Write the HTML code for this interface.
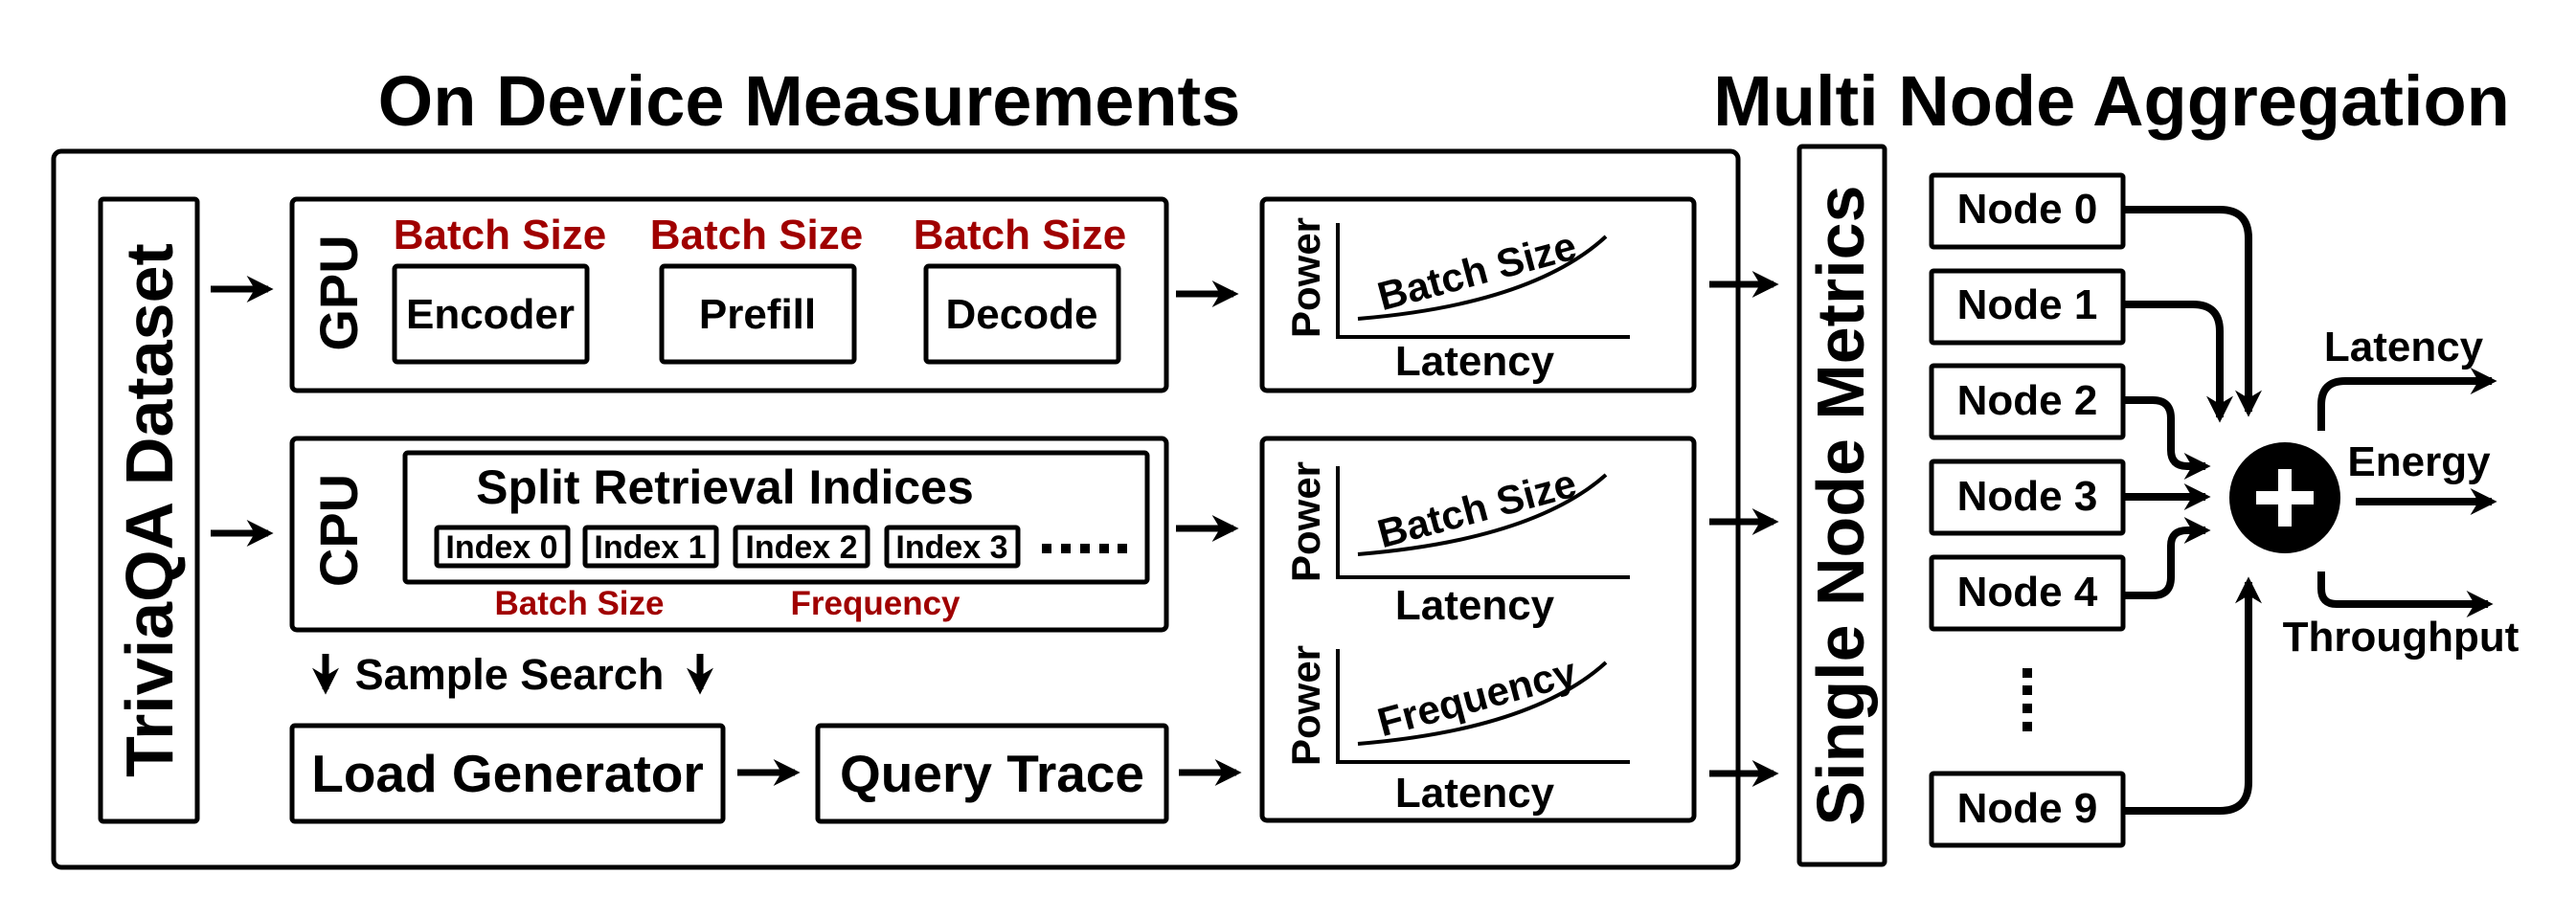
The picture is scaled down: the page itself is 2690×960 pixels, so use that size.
<!DOCTYPE html>
<html><head><meta charset="utf-8"><style>
html,body{margin:0;padding:0;background:#fff;}
svg{display:block;}
text{font-family:"Liberation Sans",Arial,sans-serif;font-weight:bold;}
</style></head><body>
<svg width="2690" height="960" viewBox="0 0 2690 960" xmlns="http://www.w3.org/2000/svg">
<defs>
<marker id="ah" markerWidth="30" markerHeight="28" refX="8" refY="5" orient="auto" markerUnits="userSpaceOnUse" viewBox="0 0 10 10"><path d="M0,0 L10,5 L0,10 L3,5 Z" fill="#000"/></marker>
</defs>
<text x="845" y="131" font-size="74" text-anchor="middle">On Device Measurements</text>
<text x="2205" y="131" font-size="74" text-anchor="middle">Multi Node Aggregation</text>

<g fill="none" stroke="#000" stroke-width="5">
<rect x="56" y="158" width="1759" height="748" rx="8"/>
<rect x="105" y="208" width="101" height="650" rx="3"/>
<rect x="305" y="208" width="913" height="200" rx="5"/>
<rect x="412" y="278" width="201" height="100" rx="3"/>
<rect x="691" y="278" width="201" height="100" rx="3"/>
<rect x="967" y="278" width="201" height="100" rx="3"/>
<rect x="305" y="458" width="913" height="200" rx="5"/>
<rect x="423" y="473" width="775" height="135" rx="3"/>
<rect x="456" y="551" width="137" height="40" rx="2"/>
<rect x="611" y="551" width="137" height="40" rx="2"/>
<rect x="768" y="551" width="138" height="40" rx="2"/>
<rect x="926" y="551" width="137" height="40" rx="2"/>
<rect x="305" y="758" width="450" height="100" rx="3"/>
<rect x="854" y="758" width="364" height="100" rx="3"/>
<rect x="1318" y="208" width="451" height="200" rx="5"/>
<rect x="1318" y="458" width="451" height="399" rx="5"/>
<rect x="1879" y="153" width="89" height="750" rx="3"/>
<rect x="2017" y="183" width="200" height="75" rx="2"/>
<rect x="2017" y="283" width="200" height="75" rx="2"/>
<rect x="2017" y="382" width="200" height="75" rx="2"/>
<rect x="2017" y="482" width="200" height="75" rx="2"/>
<rect x="2017" y="582" width="200" height="75" rx="2"/>
<rect x="2017" y="808" width="200" height="75" rx="2"/>
</g>

<g stroke="#000" stroke-width="7" fill="none" marker-end="url(#ah)">
<line x1="220" y1="302" x2="280" y2="302"/>
<line x1="220" y1="557" x2="280" y2="557"/>
<line x1="1228" y1="307" x2="1288" y2="307"/>
<line x1="1228" y1="552" x2="1288" y2="552"/>
<line x1="770" y1="807" x2="830" y2="807"/>
<line x1="1231" y1="807" x2="1291" y2="807"/>
<line x1="1785" y1="297" x2="1852" y2="297"/>
<line x1="1785" y1="545" x2="1852" y2="545"/>
<line x1="1785" y1="808" x2="1852" y2="808"/>
<line x1="340" y1="683" x2="340" y2="720"/>
<line x1="731" y1="683" x2="731" y2="720"/>
</g>
<g stroke="#000" stroke-width="8" fill="none" marker-end="url(#ah)">
<path d="M2217,219 H2318 Q2348,219 2348,249 V430"/>
<path d="M2217,318 H2290 Q2318,318 2318,346 V436"/>
<path d="M2217,418 H2248 Q2267,418 2267,437 V470 Q2267,487 2284,487 H2303"/>
<path d="M2217,519 H2303"/>
<path d="M2217,622 H2248 Q2267,622 2267,603 V570 Q2267,554 2284,554 H2303"/>
<path d="M2217,847 H2318 Q2348,847 2348,817 V608"/>
<path d="M2424,450 V423 Q2424,398 2449,398 H2602"/>
<path d="M2460,524 H2602"/>
<path d="M2424,597 V615 Q2424,631 2440,631 H2598"/>
</g>

<g stroke="#000" stroke-width="4" fill="none">
<path d="M1397,233 V352 H1702"/>
<path d="M1418,333 Q1600,318 1677,247"/>
<path d="M1397,487 V603 H1702"/>
<path d="M1418,579 Q1600,564 1677,496"/>
<path d="M1397,678 V796 H1702"/>
<path d="M1418,777 Q1600,762 1677,692"/>
</g>
<g font-size="42">
<text transform="translate(1378,290) rotate(-90)" text-anchor="middle">Power</text>
<text transform="translate(1378,545) rotate(-90)" text-anchor="middle">Power</text>
<text transform="translate(1378,737) rotate(-90)" text-anchor="middle">Power</text>
<text transform="translate(1546,297) rotate(-15)" text-anchor="middle">Batch Size</text>
<text transform="translate(1546,545) rotate(-15)" text-anchor="middle">Batch Size</text>
<text transform="translate(1546,742) rotate(-15)" text-anchor="middle">Frequency</text>
</g>
<g font-size="44" text-anchor="middle">
<text x="1540" y="392">Latency</text>
<text x="1540" y="647">Latency</text>
<text x="1540" y="843">Latency</text>
</g>

<text transform="translate(180,533) rotate(-90)" font-size="70" text-anchor="middle">TriviaQA Dataset</text>
<text transform="translate(1946,528) rotate(-90)" font-size="70" text-anchor="middle">Single Node Metrics</text>
<text transform="translate(373,306) rotate(-90)" font-size="56" text-anchor="middle">GPU</text>
<text transform="translate(373,554) rotate(-90)" font-size="56" text-anchor="middle">CPU</text>

<g font-size="44" fill="#a00000" text-anchor="middle">
<text x="522" y="260">Batch Size</text>
<text x="790" y="260">Batch Size</text>
<text x="1065" y="260">Batch Size</text>
</g>
<g font-size="44" text-anchor="middle">
<text x="512" y="343">Encoder</text>
<text x="791" y="343">Prefill</text>
<text x="1067" y="343">Decode</text>
</g>
<text x="757" y="526" font-size="50" text-anchor="middle">Split Retrieval Indices</text>
<g font-size="34" text-anchor="middle">
<text x="524" y="583">Index 0</text>
<text x="679" y="583">Index 1</text>
<text x="837" y="583">Index 2</text>
<text x="994" y="583">Index 3</text>
</g>
<g fill="#000">
<rect x="1088" y="568" width="10" height="10"/><rect x="1108" y="568" width="10" height="10"/><rect x="1128" y="568" width="10" height="10"/><rect x="1148" y="568" width="10" height="10"/><rect x="1167" y="568" width="10" height="10"/>
<rect x="2112" y="698" width="10" height="10"/><rect x="2112" y="716" width="10" height="10"/><rect x="2112" y="735" width="10" height="10"/><rect x="2112" y="754" width="10" height="10"/>
</g>
<g font-size="35" fill="#a00000" text-anchor="middle">
<text x="605" y="642">Batch Size</text>
<text x="914" y="642">Frequency</text>
</g>
<text x="532" y="720" font-size="45" text-anchor="middle">Sample Search</text>
<text x="530" y="827" font-size="55" text-anchor="middle">Load Generator</text>
<text x="1036" y="827" font-size="55" text-anchor="middle">Query Trace</text>

<g font-size="44" text-anchor="middle">
<text x="2117" y="233">Node 0</text>
<text x="2117" y="333">Node 1</text>
<text x="2117" y="433">Node 2</text>
<text x="2117" y="533">Node 3</text>
<text x="2117" y="633">Node 4</text>
<text x="2117" y="859">Node 9</text>
<text x="2510" y="377">Latency</text>
<text x="2526" y="497">Energy</text>
<text x="2507" y="680">Throughput</text>
</g>
<circle cx="2386" cy="520" r="58" fill="#000"/>
<rect x="2356" y="513" width="60" height="14" fill="#fff"/>
<rect x="2379" y="490" width="14" height="60" fill="#fff"/>
</svg>
</body></html>
